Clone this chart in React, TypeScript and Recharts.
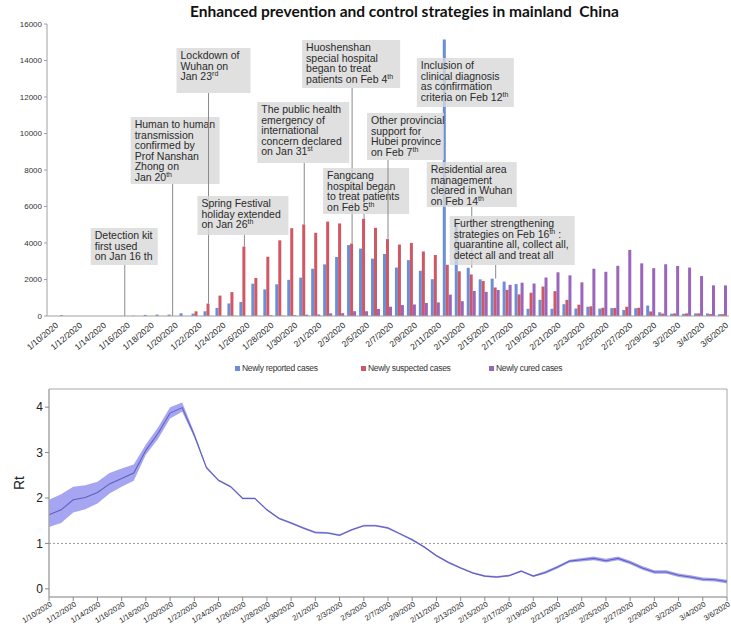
import React from 'react'
import {
  BarChart, Bar, ComposedChart, Line, Area, XAxis, YAxis,
  ReferenceLine, ReferenceDot, ReferenceArea,
} from 'recharts'

const DATES = [
  '1/10/2020', '1/11/2020', '1/12/2020', '1/13/2020', '1/14/2020', '1/15/2020', '1/16/2020', '1/17/2020',
  '1/18/2020', '1/19/2020', '1/20/2020', '1/21/2020', '1/22/2020', '1/23/2020', '1/24/2020', '1/25/2020',
  '1/26/2020', '1/27/2020', '1/28/2020', '1/29/2020', '1/30/2020', '1/31/2020',
  '2/1/2020', '2/2/2020', '2/3/2020', '2/4/2020', '2/5/2020', '2/6/2020', '2/7/2020', '2/8/2020',
  '2/9/2020', '2/10/2020', '2/11/2020', '2/12/2020', '2/13/2020', '2/14/2020', '2/15/2020', '2/16/2020',
  '2/17/2020', '2/18/2020', '2/19/2020', '2/20/2020', '2/21/2020', '2/22/2020', '2/23/2020', '2/24/2020',
  '2/25/2020', '2/26/2020', '2/27/2020', '2/28/2020', '2/29/2020',
  '3/1/2020', '3/2/2020', '3/3/2020', '3/4/2020', '3/5/2020', '3/6/2020',
]

const NEW_REPORTED = [
  0, 41, 0, 0, 0, 0, 4, 17, 59, 77, 77, 149, 131, 259, 444, 688, 769, 1771, 1459, 1737, 1982, 2102,
  2590, 2829, 3235, 3887, 3694, 3143, 3399, 2656, 3062, 2478, 2015, 15152, 5090, 2641, 2009, 2048,
  1886, 1749, 394, 889, 397, 648, 409, 508, 406, 433, 327, 427, 573, 202, 125, 119, 139, 143, 99,
]

const NEW_SUSPECTED = [
  0, 0, 0, 0, 0, 0, 0, 0, 0, 0, 0, 0, 257, 680, 1118, 1309, 3806, 2077, 3248, 4148, 4812, 5019,
  4562, 5173, 5072, 3971, 5328, 4833, 4214, 3916, 4008, 3536, 3342, 2807, 2450, 2277, 1918, 1563,
  1432, 1185, 1277, 1614, 1361, 882, 620, 530, 452, 439, 508, 452, 248, 132, 141, 143, 143, 102, 99,
]

const NEW_CURED = [
  0, 0, 0, 0, 0, 0, 0, 0, 0, 0, 0, 0, 0, 6, 4, 11, 2, 9, 43, 21, 47, 72,
  85, 147, 157, 262, 261, 387, 510, 599, 632, 715, 744, 1171, 812, 1373, 1323, 1425,
  1708, 1824, 1779, 2109, 2395, 2229, 1846, 2589, 2422, 2750, 3622, 2885, 2623, 2837, 2742, 2652, 2189, 1681, 1678,
]

const CASE_TICKS = [0, 2000, 4000, 6000, 8000, 10000, 12000, 14000, 16000]

const RT_MEAN = [
  1.63, 1.74, 1.96, 2.01, 2.12, 2.31, 2.43, 2.55, 3.05, 3.42, 3.87, 3.99, 3.38, 2.67, 2.39, 2.25, 1.99, 1.99, 1.74, 1.55,
  1.45, 1.34, 1.24, 1.23, 1.18, 1.30, 1.39, 1.39, 1.34, 1.21, 1.08, 0.92, 0.73, 0.58, 0.46, 0.35, 0.28, 0.26, 0.29, 0.39,
  0.28, 0.36, 0.48, 0.61, 0.64, 0.67, 0.62, 0.67, 0.58, 0.46, 0.37, 0.37, 0.30, 0.26, 0.21, 0.20, 0.16,
]
const RT_HIGH = [
  1.96, 2.08, 2.25, 2.28, 2.36, 2.55, 2.65, 2.74, 3.18, 3.55, 4.0, 4.1, 3.44, 2.70, 2.41, 2.27, 2.01, 2.01, 1.76, 1.57,
  1.47, 1.36, 1.26, 1.25, 1.20, 1.32, 1.41, 1.41, 1.36, 1.23, 1.10, 0.94, 0.75, 0.60, 0.48, 0.37, 0.30, 0.28, 0.31, 0.41,
  0.30, 0.39, 0.51, 0.64, 0.68, 0.71, 0.66, 0.71, 0.62, 0.50, 0.41, 0.41, 0.34, 0.30, 0.25, 0.24, 0.20,
]
const RT_LOW = [
  1.36, 1.45, 1.68, 1.75, 1.88, 2.10, 2.25, 2.38, 2.95, 3.30, 3.75, 3.90, 3.33, 2.64, 2.37, 2.23, 1.97, 1.97, 1.72, 1.53,
  1.43, 1.32, 1.22, 1.21, 1.16, 1.28, 1.37, 1.37, 1.32, 1.19, 1.06, 0.90, 0.71, 0.56, 0.44, 0.33, 0.26, 0.24, 0.27, 0.37,
  0.26, 0.33, 0.45, 0.58, 0.60, 0.63, 0.58, 0.63, 0.54, 0.42, 0.33, 0.33, 0.26, 0.22, 0.17, 0.16, 0.12,
]
const RT_TICKS = [0, 1, 2, 3, 4]

// events: date, value the pointer reaches, text lines ({..} = superscript)
const EVENTS = [
  { date: '1/16/2020', at: 0, lines: ['Detection kit', 'first used', 'on Jan 16 th'] },
  { date: '1/20/2020', at: 0, lines: ['Human to human', 'transmission', 'confirmed by', 'Prof Nanshan', 'Zhong on', 'Jan 20{th}'] },
  { date: '1/23/2020', at: 680, lines: ['Lockdown of', 'Wuhan on', 'Jan 23{rd}'] },
  { date: '1/26/2020', at: 3806, lines: ['Spring Festival', 'holiday extended', 'on Jan 26{th}'] },
  { date: '1/31/2020', at: 5019, lines: ['The public health', 'emergency of', 'international', 'concern declared', 'on Jan 31{st}'] },
  { date: '2/4/2020', at: 3971, lines: ['Huoshenshan', 'special hospital', 'began to treat', 'patients on Feb 4{th}'] },
  { date: '2/5/2020', at: 5328, lines: ['Fangcang', 'hospital began', 'to treat patients', 'on Feb 5{th}'] },
  { date: '2/7/2020', at: 4214, lines: ['Other provincial', 'support for', 'Hubei province', 'on Feb 7{th}'] },
  { date: '2/12/2020', at: 15152, lines: ['Inclusion of', 'clinical diagnosis', 'as confirmation', 'criteria on Feb 12{th}'] },
  { date: '2/14/2020', at: 2641, lines: ['Residential area', 'management', 'cleared in Wuhan', 'on Feb 14{th}'] },
  { date: '2/16/2020', at: 2048, lines: ['Further strengthening', 'strategies on Feb 16{th} :', 'quarantine all, collect all,', 'detect all and treat all'] },
]

// box placement for each event, in px (dx from the pointer, top in chart px)
const EVENT_BOXES = [
  { dx: -34, top: 228, w: 67, h: 37, pointer: true },
  { dx: -42, top: 117, w: 89, h: 67, pointer: true },
  { dx: -32, top: 48, w: 74, h: 45, pointer: true },
  { dx: -47, top: 196, w: 91, h: 39, pointer: true },
  { dx: -47, top: 102, w: 92, h: 61, pointer: true },
  { dx: -50, top: 40, w: 98, h: 48, pointer: true },
  { dx: -41, top: 168, w: 86, h: 46, pointer: true },
  { dx: -21, top: 113, w: 77, h: 47, pointer: true },
  { dx: -31, top: 58, w: 97, h: 49, pointer: false },
  { dx: -45, top: 162, w: 90, h: 45, pointer: true },
  { dx: -46, top: 216, w: 125, h: 49, pointer: true },
]

const BLUE = '#6b8ed6'
const RED = '#d05865'
const PURPLE = '#9a66bb'
const FONT = '"Liberation Sans", Arial, sans-serif'

const SERIES = [
  { key: 'reported', label: 'Newly reported cases', color: BLUE },
  { key: 'suspected', label: 'Newly suspected cases', color: RED },
  { key: 'cured', label: 'Newly cured cases', color: PURPLE },
]
const LEGEND_X = [235, 361, 489]

const caseRows = DATES.map((date, i) => ({
  date, reported: NEW_REPORTED[i], suspected: NEW_SUSPECTED[i], cured: NEW_CURED[i],
}))
const rtRows = DATES.map((date, i) => ({ date, rt: RT_MEAN[i], ci: [RT_LOW[i], RT_HIGH[i]] }))

function withSup(line: string) {
  const parts = line.split(/[{}]/)
  return parts.map((p, k) =>
    k % 2 === 1
      ? <tspan key={k} dy={-4} fontSize={7}>{p}</tspan>
      : <tspan key={k} dy={k > 0 ? 4 : 0}>{p}</tspan>
  )
}

function EventBox({ cx, cy, box, lines }: any) {
  const left = cx + box.dx
  return (
    <g>
      {box.pointer && (
        <line x1={cx} x2={cx} y1={box.top + box.h} y2={cy} stroke="#8a8a8a" strokeWidth={1} />
      )}
      <rect x={left} y={box.top} width={box.w} height={box.h} fill="#d8d8d8" fillOpacity={0.8} />
      <text fontSize={10.5} fill="#2a2a2a" fontFamily={FONT}>
        {lines.map((ln: string, k: number) => (
          <tspan key={k} x={left + 4} y={box.top + 11 + k * 10.6}>{withSup(ln)}</tspan>
        ))}
      </text>
    </g>
  )
}

function DateTick({ x, y, payload, size, angle, dx }: any) {
  return (
    <g transform={`translate(${x + dx},${y})`}>
      <text x={0} y={0} dy={3} textAnchor="end" fontSize={size} fill="#222" fontFamily={FONT}
        transform={`rotate(${angle})`}>
        {payload.value}
      </text>
    </g>
  )
}

function CasesChart() {
  return (
    <BarChart width={731} height={360} data={caseRows} barGap={0} barCategoryGap="8%"
      margin={{ top: 24, right: 2, bottom: 0, left: 0 }}>
      <XAxis dataKey="date" interval={1} height={44} tickLine={false}
        axisLine={{ stroke: '#a0a0a0' }}
        tick={<DateTick size={8.5} angle={-40} dx={4} />} />
      <YAxis domain={[0, 16000]} ticks={CASE_TICKS} width={47} tickSize={3}
        axisLine={{ stroke: '#a0a0a0' }} tickLine={{ stroke: '#a0a0a0' }}
        tick={{ fontSize: 8, fill: '#333', fontFamily: FONT }} />
      {SERIES.map(s => (
        <Bar key={s.key} dataKey={s.key} fill={s.color} isAnimationActive={false} />
      ))}
      {EVENTS.map((e, i) => (
        <ReferenceDot key={e.date} x={e.date} y={e.at} ifOverflow="visible"
          shape={(p: any) => <EventBox cx={p.cx} cy={p.cy} box={EVENT_BOXES[i]} lines={e.lines} />} />
      ))}
    </BarChart>
  )
}

function RtChart() {
  return (
    <ComposedChart width={731} height={255} data={rtRows}
      margin={{ top: 9, right: 4, bottom: 0, left: 0 }}>
      <XAxis dataKey="date" interval={1} height={38} tickSize={4}
        axisLine={{ stroke: '#a8a8a8' }} tickLine={{ stroke: '#888' }}
        tick={<DateTick size={7.5} angle={-32} dx={2} />} />
      <YAxis domain={[-0.18, 4.4]} ticks={RT_TICKS} width={49} tickSize={4}
        axisLine={{ stroke: '#a8a8a8' }} tickLine={{ stroke: '#888' }}
        tick={{ fontSize: 12, fill: '#222', fontFamily: FONT }}
        label={{
          content: ({ viewBox }: any) => {
            const x = 19
            const y = viewBox.y + viewBox.height / 2 - 10
            return (
              <text x={x} y={y} textAnchor="middle" dominantBaseline="central" fontSize={14}
                fill="#222" fontFamily={FONT} transform={`rotate(-90,${x},${y})`}>Rt</text>
            )
          },
        }} />
      <ReferenceArea x1={DATES[0]} x2={DATES[DATES.length - 1]} y1={-0.18} y2={4.4}
        fill="none" stroke="#a8a8a8" ifOverflow="visible" />
      <ReferenceLine y={1} stroke="#9a9a9a" strokeDasharray="2 2" />
      <Area dataKey="ci" type="linear" stroke="none" fill="#9595f0" fillOpacity={0.85}
        isAnimationActive={false} />
      <Line dataKey="rt" type="linear" stroke="#6060bf" strokeWidth={1.1} dot={false}
        isAnimationActive={false} />
    </ComposedChart>
  )
}

export default function App() {
  return (
    <div style={{
      position: 'absolute', left: 0, top: 0, width: 731, height: 635,
      background: '#fff', fontFamily: FONT, overflow: 'hidden',
    }}>
      <div style={{
        position: 'absolute', left: 190, top: 2, whiteSpace: 'nowrap',
        fontFamily: 'Lato, "Liberation Sans", sans-serif', fontWeight: 700, fontSize: 15.5, color: '#111',
      }}>
        Enhanced prevention and control strategies in mainland&nbsp; China
      </div>
      <div style={{ position: 'absolute', left: 0, top: 0 }}>
        <CasesChart />
      </div>
      {SERIES.map((s, i) => (
        <div key={s.key} style={{
          position: 'absolute', left: LEGEND_X[i], top: 363, display: 'flex', alignItems: 'center',
          fontSize: 8.5, color: '#333', whiteSpace: 'nowrap', letterSpacing: -0.3,
        }}>
          <span style={{ width: 5, height: 5, background: s.color, marginRight: 2, display: 'inline-block' }} />
          {s.label}
        </div>
      ))}
      <div style={{ position: 'absolute', left: 0, top: 380 }}>
        <RtChart />
      </div>
    </div>
  )
}
